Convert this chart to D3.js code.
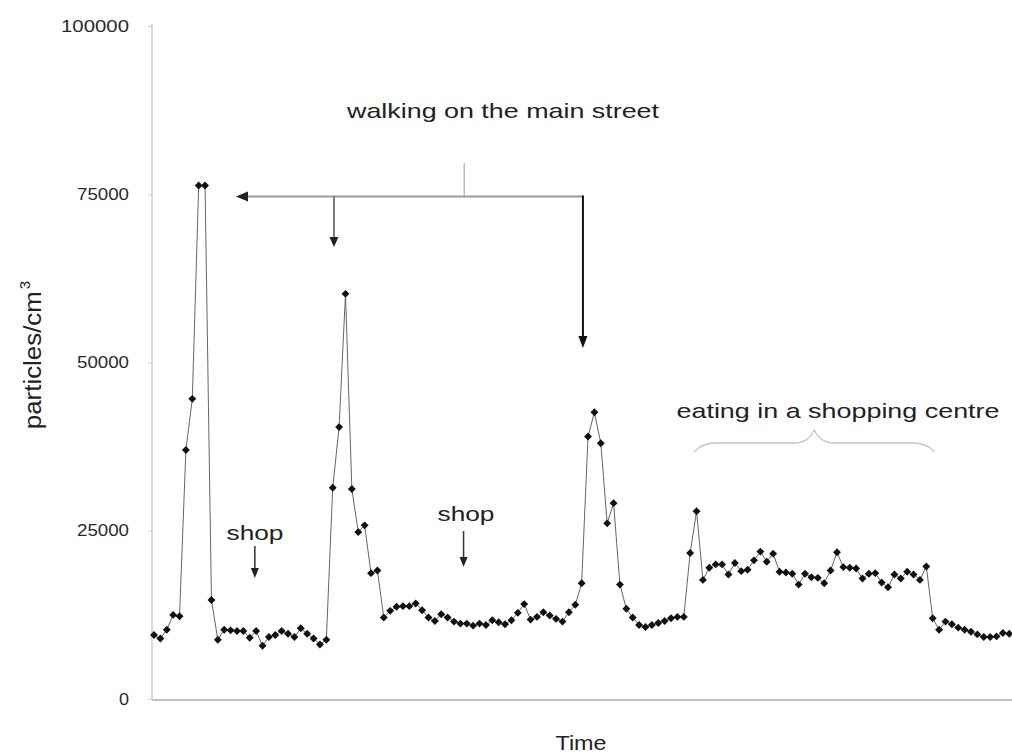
<!DOCTYPE html>
<html>
<head>
<meta charset="utf-8">
<script src="https://cdn.jsdelivr.net/npm/d3@7"></script>
<style>
  html, body { margin: 0; padding: 0; background: #fff; }
  svg { display: block; font-family: "Liberation Sans", Arial, sans-serif; }
</style>
</head>
<body>
<svg id="chart" width="1012" height="755"></svg>
<script>
// ---- data (particles/cm3), one value per sample in time order ----
const concentration = [
  9500, 9000, 10300, 12500, 12300, 37000, 44600, 76300, 76300, 14700,
  8800, 10300, 10200, 10100, 10100, 9100, 10100, 7900, 9200, 9500,
  10100, 9700, 9200, 10500, 9700, 9000, 8100, 8800, 31400, 40400,
  60200, 31200, 24800, 25800, 18700, 19100, 12100, 13100, 13700, 13800,
  13800, 14200, 13200, 12100, 11600, 12600, 12100, 11500, 11200, 11200,
  10900, 11200, 11000, 11700, 11400, 11100, 11700, 12800, 14100, 11800,
  12200, 12900, 12400, 11900, 11500, 12900, 14000, 17200, 39000, 42600,
  38000, 26100, 29100, 17000, 13400, 12100, 11000, 10700, 11000, 11300,
  11600, 12000, 12200, 12200, 21700, 27900, 17700, 19500, 20000, 20000,
  18500, 20200, 19000, 19200, 20600, 21900, 20400, 21600, 18900, 18800,
  18600, 17000, 18600, 18100, 18000, 17200, 19100, 21800, 19600, 19500,
  19400, 17900, 18600, 18700, 17300, 16600, 18500, 17900, 18900, 18500,
  17700, 19700, 12000, 10300, 11500, 11100, 10600, 10300, 10000, 9600,
  9200, 9200, 9300, 9800, 9700
];
const yTicks = [0, 25000, 50000, 75000, 100000];
const yTickLabels = ["0", "25000", "50000", "75000", "100000"];
const yTitle = "particles/cm";
const yTitleSup = "3";
const xTitle = "Time";
const walkLabel = "walking on the main street";
const shopLabels = ["shop", "shop"];
const shopIndex = [15.8, 48.5];          // sample positions the "shop" arrows point at
const walkArrowIndex = [28.2, 67.2];     // sample positions of the downward walking arrows
const walkStemIndex = [48.6];            // sample position of the label stem
const eatLabel = "eating in a shopping centre";
const eatRange = [84.6, 122.3];          // sample span of the brace

// ---- layout ----
const svg = d3.select("#chart");
const x = d3.scaleLinear().domain([0, concentration.length - 1]).range([154, 1009.3]);
const y = d3.scaleLinear().domain([0, 100000]).range([699, 26]);

// axes
svg.append("line").attr("x1", 152).attr("x2", 152).attr("y1", y(100000) - 2).attr("y2", 700)
  .attr("stroke", "#cdcdcd").attr("stroke-width", 1.5);
svg.append("line").attr("x1", 152).attr("x2", 1012).attr("y1", 700).attr("y2", 700)
  .attr("stroke", "#c0c0c0").attr("stroke-width", 2);

const yAxis = d3.axisLeft(y).tickValues(yTicks).tickSize(4).tickPadding(19)
  .tickFormat((d, i) => yTickLabels[i]);
const gy = svg.append("g").attr("transform", "translate(152,0)").call(yAxis);
gy.select(".domain").remove();
gy.selectAll(".tick line").attr("stroke", "#cdcdcd");
gy.selectAll(".tick text")
  .attr("font-size", 16).attr("fill", "#2a2a2a")
  .attr("font-family", "Liberation Sans, Arial, sans-serif")
  .attr("textLength", d => d === 0 ? 10 : (d === 100000 ? 68 : 52))
  .attr("lengthAdjust", "spacingAndGlyphs");

// axis titles
const yt = svg.append("text").attr("transform", "translate(41,355) rotate(-90)")
  .attr("text-anchor", "middle").attr("font-size", 23).attr("fill", "#222");
yt.append("tspan").attr("textLength", 138).attr("lengthAdjust", "spacingAndGlyphs").text(yTitle);
yt.append("tspan").attr("font-size", 15).attr("dx", 2).attr("dy", -11).text(yTitleSup);

svg.append("text").attr("x", 581).attr("y", 750).attr("text-anchor", "middle")
  .attr("font-size", 21).attr("fill", "#222")
  .attr("textLength", 51).attr("lengthAdjust", "spacingAndGlyphs").text(xTitle);

// series line + markers
const line = d3.line().x((d, i) => x(i)).y(d => y(d));
svg.append("path").datum(concentration).attr("d", line)
  .attr("fill", "none").attr("stroke", "#666").attr("stroke-width", 1);
svg.append("g").selectAll("path").data(concentration).join("path")
  .attr("transform", (d, i) => `translate(${x(i)},${y(d)})`)
  .attr("d", d3.symbol().type(d3.symbolDiamond2).size(40))
  .attr("fill", "#111");

function arrowHead(cx, tipY, w, h, color) {
  svg.append("path")
    .attr("d", `M${cx - w / 2},${tipY - h}L${cx + w / 2},${tipY - h}L${cx},${tipY}Z`)
    .attr("fill", color);
}

// walking annotation
svg.append("text").attr("x", 503).attr("y", 118).attr("text-anchor", "middle")
  .attr("font-size", 21).attr("fill", "#222")
  .attr("textLength", 312).attr("lengthAdjust", "spacingAndGlyphs").text(walkLabel);
const barY = 196.5;
svg.append("line").attr("x1", x(walkStemIndex[0])).attr("x2", x(walkStemIndex[0]))
  .attr("y1", 163).attr("y2", barY).attr("stroke", "#aaa").attr("stroke-width", 1.2);
svg.append("line").attr("x1", 246).attr("x2", x(walkArrowIndex[1])).attr("y1", barY).attr("y2", barY)
  .attr("stroke", "#9a9a9a").attr("stroke-width", 2.2);
svg.append("path").attr("d", `M236,${barY}L248,${barY - 5}L248,${barY + 5}Z`).attr("fill", "#222");
svg.append("line").attr("x1", x(walkArrowIndex[0])).attr("x2", x(walkArrowIndex[0]))
  .attr("y1", barY).attr("y2", 238).attr("stroke", "#555").attr("stroke-width", 1.5);
arrowHead(x(walkArrowIndex[0]), 247, 9, 10, "#222");
svg.append("line").attr("x1", x(walkArrowIndex[1])).attr("x2", x(walkArrowIndex[1]))
  .attr("y1", barY - 1).attr("y2", 338).attr("stroke", "#111").attr("stroke-width", 2);
arrowHead(x(walkArrowIndex[1]), 348, 9, 12, "#111");

// shop annotations
const shopText = [{ tx: 255, ty: 540, ay0: 546, ay1: 578 }, { tx: 466, ty: 521, ay0: 531, ay1: 567 }];
shopText.forEach((s, i) => {
  svg.append("text").attr("x", s.tx).attr("y", s.ty).attr("text-anchor", "middle")
    .attr("font-size", 21).attr("fill", "#222")
    .attr("textLength", 57).attr("lengthAdjust", "spacingAndGlyphs").text(shopLabels[i]);
  const ax = x(shopIndex[i]);
  svg.append("line").attr("x1", ax).attr("x2", ax).attr("y1", s.ay0).attr("y2", s.ay1 - 9)
    .attr("stroke", "#333").attr("stroke-width", 1.5);
  arrowHead(ax, s.ay1, 8, 10, "#222");
});

// eating annotation
svg.append("text").attr("x", 838).attr("y", 418).attr("text-anchor", "middle")
  .attr("font-size", 21).attr("fill", "#222")
  .attr("textLength", 323).attr("lengthAdjust", "spacingAndGlyphs").text(eatLabel);
const bx0 = x(eatRange[0]), bx1 = x(eatRange[1]), bm = (bx0 + bx1) / 2;
const braceTop = 443, braceEnd = 452, braceTip = 430;
svg.append("path")
  .attr("d", `M${bx0},${braceEnd} Q${bx0 + 8},${braceTop} ${bx0 + 22},${braceTop}
              L${bm - 20},${braceTop} Q${bm - 6},${braceTop} ${bm},${braceTip}
              Q${bm + 6},${braceTop} ${bm + 20},${braceTop}
              L${bx1 - 22},${braceTop} Q${bx1 - 8},${braceTop} ${bx1},${braceEnd}`)
  .attr("fill", "none").attr("stroke", "#c4c4c4").attr("stroke-width", 1.3);
</script>
</body>
</html>
